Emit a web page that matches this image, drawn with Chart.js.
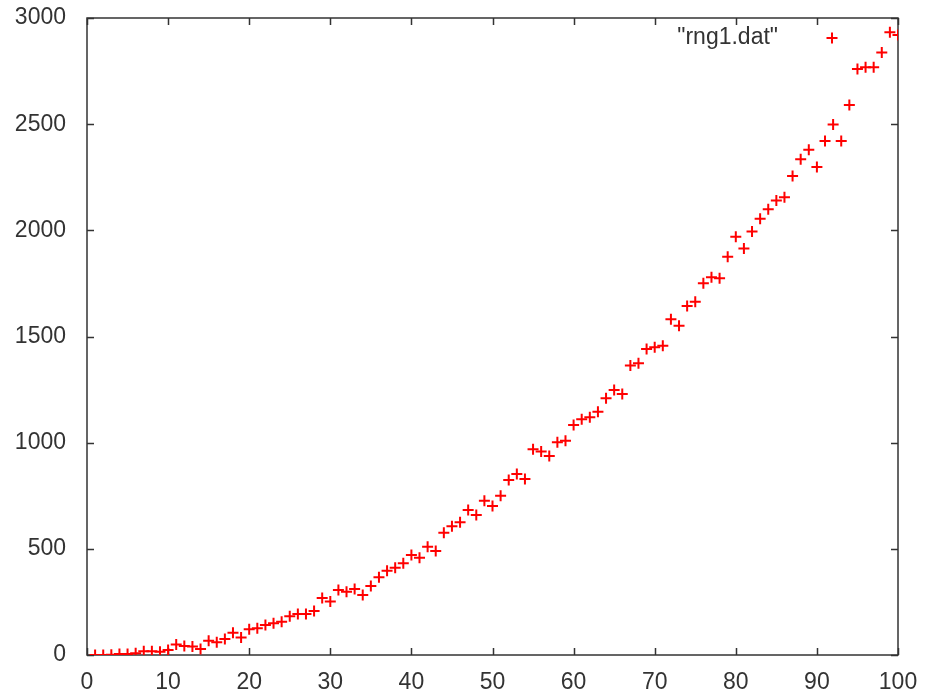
<!DOCTYPE html>
<html>
<head>
<meta charset="utf-8">
<title>rng1.dat</title>
<script src="https://cdn.jsdelivr.net/npm/chart.js@4.4.1/dist/chart.umd.min.js"></script>
<style>
    body { margin: 0; background: #ffffff; }
    #plot { display: block; }
</style>
</head>
<body>
<canvas id="plot" width="926" height="690"></canvas>
<script>
const seriesLabel = '"rng1.dat"';

const xValues = [
    1, 2, 3, 4, 5, 6, 7, 8, 9, 10,
    11, 12, 13, 14, 15, 16, 17, 18, 19, 20,
    21, 22, 23, 24, 25, 26, 27, 28, 29, 30,
    31, 32, 33, 34, 35, 36, 37, 38, 39, 40,
    41, 42, 43, 44, 45, 46, 47, 48, 49, 50,
    51, 52, 53, 54, 55, 56, 57, 58, 59, 60,
    61, 62, 63, 64, 65, 66, 67, 68, 69, 70,
    71, 72, 73, 74, 75, 76, 77, 78, 79, 80,
    81, 82, 83, 84, 85, 86, 87, 88, 89, 90,
    91, 92, 93, 94, 95, 96, 97, 98, 99, 100
];

const yValues = [
    0, 0, 1, 5, 5, 8, 18, 18, 15, 24,
    50, 42, 40, 28, 67, 60, 75, 105, 82, 121,
    126, 141, 149, 157, 182, 193, 193, 207, 268, 252,
    306, 298, 311, 283, 325, 366, 397, 411, 432, 471,
    458, 510, 490, 576, 606, 625, 683, 659, 727, 702,
    750, 824, 852, 829, 969, 958, 937, 1002, 1009, 1083,
    1110, 1120, 1146, 1209, 1248, 1229, 1363, 1374, 1441, 1449,
    1457, 1581, 1551, 1644, 1664, 1751, 1779, 1774, 1876, 1970,
    1915, 1994, 2054, 2099, 2140, 2156, 2256, 2335, 2380, 2298,
    2421, 2499, 2421, 2590, 2760, 2768, 2768, 2838, 2933, 2920
];

const xTicks = [0, 10, 20, 30, 40, 50, 60, 70, 80, 90, 100];
const yTicks = [0, 500, 1000, 1500, 2000, 2500, 3000];

const FONT = { family: '"Liberation Sans", Arial, sans-serif', size: 23 };
const TEXT_COLOR = '#333333';
const FRAME_COLOR = '#333333';
const MARK_COLOR = '#ff0000';

// gnuplot-like frame: box around the plot with inward ticks on all four sides
const framePlugin = {
    id: 'frame',
    beforeDatasetsDraw(chart) {
        const { ctx, chartArea: a, scales } = chart;
        const len = 7;
        ctx.save();
        ctx.strokeStyle = FRAME_COLOR;
        ctx.lineWidth = 1.5;
        ctx.beginPath();
        xTicks.forEach(v => {
            const px = Math.round(scales.x.getPixelForValue(v)) + 0.5;
            ctx.moveTo(px, a.bottom); ctx.lineTo(px, a.bottom - len);
            ctx.moveTo(px, a.top); ctx.lineTo(px, a.top + len);
        });
        yTicks.forEach(v => {
            const py = Math.round(scales.y.getPixelForValue(v)) + 0.5;
            ctx.moveTo(a.left, py); ctx.lineTo(a.left + len, py);
            ctx.moveTo(a.right, py); ctx.lineTo(a.right - len, py);
        });
        ctx.stroke();
        ctx.strokeRect(a.left, a.top, a.right - a.left, a.bottom - a.top);
        ctx.restore();
    }
};

// key in the top right corner, text then a sample marker
const keyPlugin = {
    id: 'key',
    afterDraw(chart) {
        const { ctx, chartArea: a } = chart;
        const y = a.top + 20;
        const sampleX = a.right - 66;
        ctx.save();
        ctx.font = FONT.size + 'px ' + FONT.family;
        ctx.fillStyle = TEXT_COLOR;
        ctx.textAlign = 'right';
        ctx.textBaseline = 'middle';
        ctx.fillText(seriesLabel, sampleX - 54, y);
        ctx.strokeStyle = MARK_COLOR;
        ctx.lineWidth = 2;
        ctx.beginPath();
        ctx.moveTo(sampleX - 5.5, y); ctx.lineTo(sampleX + 5.5, y);
        ctx.moveTo(sampleX, y - 5.5); ctx.lineTo(sampleX, y + 5.5);
        ctx.stroke();
        ctx.restore();
    }
};

const points = xValues.map((x, i) => ({ x: x, y: yValues[i] }));

new Chart(document.getElementById('plot'), {
    type: 'scatter',
    data: {
        datasets: [{
            label: seriesLabel,
            data: points,
            pointStyle: 'cross',
            pointRadius: 5.5,
            pointHoverRadius: 5.5,
            borderColor: MARK_COLOR,
            backgroundColor: MARK_COLOR,
            borderWidth: 2
        }]
    },
    options: {
        responsive: false,
        animation: false,
        layout: { padding: { left: 0, right: 28, top: 18, bottom: 0 } },
        plugins: {
            legend: { display: false },
            tooltip: { enabled: false }
        },
        scales: {
            x: {
                type: 'linear',
                min: 0,
                max: 100,
                afterBuildTicks: scale => { scale.ticks = xTicks.map(v => ({ value: v })); },
                afterFit: scale => {
                    scale.height = 35;
                    scale.paddingLeft = 0;
                    scale.paddingRight = 0;
                },
                grid: { display: false, drawTicks: false },
                border: { display: false },
                ticks: { color: TEXT_COLOR, font: FONT, padding: 14, maxRotation: 0, callback: v => String(v) }
            },
            y: {
                type: 'linear',
                min: 0,
                max: 3000,
                afterBuildTicks: scale => { scale.ticks = yTicks.map(v => ({ value: v })); },
                afterFit: scale => {
                    scale.width = 87;
                    scale.paddingTop = 0;
                    scale.paddingBottom = 0;
                },
                grid: { display: false, drawTicks: false },
                border: { display: false },
                ticks: { color: TEXT_COLOR, font: FONT, padding: 21, callback: v => String(v) }
            }
        }
    },
    plugins: [framePlugin, keyPlugin]
});
</script>
</body>
</html>
